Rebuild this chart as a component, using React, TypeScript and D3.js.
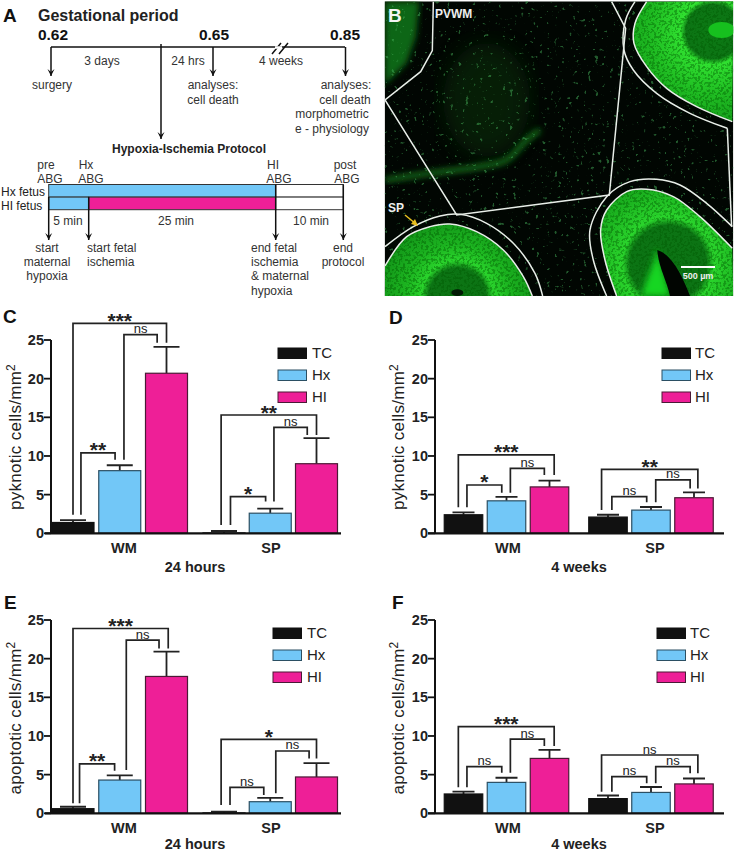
import React, { useEffect, useRef } from 'react';
import * as d3 from 'd3';

// bar chart values
const seriesNames = ['TC', 'Hx', 'HI'];
const groupNames = ['WM', 'SP'];
const yTicks = [0, 5, 10, 15, 20, 25];

// slots 0-2 are WM, 3-5 are SP (TC, Hx, HI in each)
const pyknotic24Mean = [1.4, 8.1, 20.7, 0.05, 2.6, 9.0];
const pyknotic24Top = [1.7, 8.8, 24.1, 0.3, 3.2, 12.3];
const pyknotic4Mean = [2.4, 4.2, 6.0, 2.1, 3.0, 4.6];
const pyknotic4Top = [2.7, 4.7, 6.8, 2.4, 3.4, 5.3];
const apoptotic24Mean = [0.6, 4.3, 17.7, 0.05, 1.5, 4.7];
const apoptotic24Top = [0.85, 4.9, 20.9, 0.2, 2.0, 6.5];
const apoptotic4Mean = [2.5, 4.0, 7.1, 1.9, 2.7, 3.8];
const apoptotic4Top = [2.8, 4.6, 8.2, 2.3, 3.4, 4.5];

// brackets: slot from, slot to, top value, left end value, right end value, label
const pyknotic24Brackets: [number, number, number, number, number, string][] = [
  [0, 2, 27.15, 2.4, 24.65, '***'],
  [0.17, 0.9, 10.4, 2.4, 9.5, '**'],
  [1.09, 1.8, 25.7, 9.5, 24.65, 'ns'],
  [2.95, 5, 15.3, 1.08, 12.7, '**'],
  [3.14, 3.9, 4.74, 1.08, 4.1, '*'],
  [4.08, 4.8, 13.7, 4.1, 12.7, 'ns'],
];
const pyknotic4Brackets: [number, number, number, number, number, string][] = [
  [-0.12, 2.08, 10.13, 3.36, 7.54, '***'],
  [0.08, 0.89, 6.25, 3.36, 5.26, '*'],
  [1.09, 1.88, 8.4, 5.26, 7.54, 'ns'],
  [2.89, 5.09, 8.28, 3.0, 5.8, '**'],
  [3.09, 3.9, 4.74, 3.0, 4.0, 'ns'],
  [4.11, 4.91, 6.9, 4.0, 5.8, 'ns'],
];
const apoptotic24Brackets: [number, number, number, number, number, string][] = [
  [0, 2.03, 23.9, 1.3, 21.3, '***'],
  [0.14, 0.89, 6.4, 1.3, 5.5, '**'],
  [1.14, 1.84, 22.4, 5.6, 21.3, 'ns'],
  [2.95, 5, 9.57, 1.08, 7.1, '*'],
  [3.13, 3.86, 3.36, 1.08, 2.37, 'ns'],
  [4.12, 4.84, 8.06, 2.6, 7.1, 'ns'],
];
const apoptotic4Brackets: [number, number, number, number, number, string][] = [
  [-0.12, 2.08, 11.2, 3.36, 8.7, '***'],
  [0.08, 0.89, 6.03, 3.36, 5.26, 'ns'],
  [1.09, 1.88, 9.6, 5.26, 8.7, 'ns'],
  [2.89, 5.09, 7.54, 2.8, 5.17, 'ns'],
  [3.09, 3.9, 4.74, 2.8, 3.88, 'ns'],
  [4.11, 4.91, 6.03, 3.88, 5.17, 'ns'],
];

// protocol timeline, minutes
const protocolMinutes = [0, 5, 30, 40];
const hxFetusSegments = [[0, 30, 'blue'], [30, 40, 'white']];
const hiFetusSegments = [[0, 5, 'blue'], [5, 30, 'pink'], [30, 40, 'white']];

// tracing outlines of the micrograph, in a 3x crop space
const regionLines = [
  [[160, 5], [157, 152], [122, 215], [15, 300], [230, 645], [688, 585], [737, 85], [695, 5]],
  [[1042, 385], [1055, 680]],
];
const outerLeft = [[15, 740], [100, 680], [180, 648], [240, 643], [320, 670], [400, 730], [465, 820], [488, 888]];
const innerLeft = [[15, 798], [80, 710], [150, 680], [210, 672], [290, 695], [370, 750], [430, 830], [457, 888]];
const outerRight = [[680, 888], [640, 780], [630, 690], [680, 590], [750, 545], [830, 538], [900, 555], [980, 610], [1057, 680]];
const innerRight = [[710, 888], [675, 780], [662, 690], [680, 630], [740, 575], [800, 568], [880, 590], [960, 650], [1057, 745]];
const outerTop = [[765, 5], [737, 60], [732, 150], [760, 210], [830, 280], [930, 340], [1042, 385]];
const innerTop = [[800, 5], [765, 70], [762, 130], [800, 200], [860, 265], [950, 320], [1057, 365]];
const streakLine = [[15, 540], [150, 520], [300, 500], [380, 480], [440, 420], [480, 390]];

const BLUE = '#72c7f7';
const PINK = '#ee1f97';
const INK = '#111';
const FONT = '"Liberation Sans", Arial, sans-serif';

const panels = [
  { letter: 'C', lx: 3, ly: 323, top: 340, axisX: 51, x0: 45, x1: 341, c: [73, 166.5, 224, 316.5], bw: 42, cap: 26,
    mean: pyknotic24Mean, upper: pyknotic24Top, brackets: pyknotic24Brackets, title: 'pyknotic cells/mm', titleX: 21, time: '24 hours',
    wmX: 124, spX: 271, timeX: 195, timeDy: 39, legX: 278, legT: 312 },
  { letter: 'D', lx: 389, ly: 324, top: 340, axisX: 435, x0: 428, x1: 724, c: [463.5, 549.5, 608, 694], bw: 38.5, cap: 22,
    mean: pyknotic4Mean, upper: pyknotic4Top, brackets: pyknotic4Brackets, title: 'pyknotic cells/mm', titleX: 404, time: '4 weeks',
    wmX: 508, spX: 655, timeX: 579, timeDy: 39, legX: 662, legT: 695 },
  { letter: 'E', lx: 4, ly: 609, top: 620, axisX: 51, x0: 45, x1: 341, c: [73, 166.5, 224, 316.5], bw: 42, cap: 26,
    mean: apoptotic24Mean, upper: apoptotic24Top, brackets: apoptotic24Brackets, title: 'apoptotic cells/mm', titleX: 21, time: '24 hours',
    wmX: 124, spX: 271, timeX: 195, timeDy: 36, legX: 273, legT: 307 },
  { letter: 'F', lx: 392, ly: 609, top: 620, axisX: 435, x0: 428, x1: 724, c: [463.5, 549.5, 608, 694], bw: 38.5, cap: 22,
    mean: apoptotic4Mean, upper: apoptotic4Top, brackets: apoptotic4Brackets, title: 'apoptotic cells/mm', titleX: 404, time: '4 weeks',
    wmX: 508, spX: 655, timeX: 579, timeDy: 36, legX: 657, legT: 690 },
];

const fills = [INK, BLUE, PINK];

function drawText(g: any, str: string, x: number, y: number, size: number, opts: any = {}) {
  return g.append('text')
    .attr('x', x).attr('y', y)
    .attr('font-size', size)
    .attr('font-family', FONT)
    .attr('font-weight', opts.bold ? 700 : 400)
    .attr('text-anchor', opts.anchor || 'middle')
    .attr('fill', opts.fill || INK)
    .text(str);
}

function drawBars(svg: any, p: any) {
  const g = svg.append('g');
  const y = d3.scaleLinear().domain([0, 25]).range([p.top + 193.3, p.top]);
  // WM slots, then SP slots, each evenly spaced
  const slot = d3.scaleLinear().domain([0, 2, 3, 5]).range(p.c);
  const slots = d3.range(6);

  drawText(g, p.letter, p.lx, p.ly, 19, { bold: true, anchor: 'start', fill: '#111' });

  // error bars go under the bars
  slots.forEach(i => {
    const cx = slot(i);
    g.append('path')
      .attr('d', `M${cx},${y(p.mean[i])}V${y(p.upper[i])}M${cx - p.cap / 2},${y(p.upper[i])}H${cx + p.cap / 2}`)
      .attr('fill', 'none').attr('stroke', '#222').attr('stroke-width', 1.8);
  });

  g.selectAll('rect.bar').data(slots).join('rect')
    .attr('class', 'bar')
    .attr('x', (i: number) => slot(i) - p.bw / 2)
    .attr('width', p.bw)
    .attr('y', (i: number) => y(p.mean[i]))
    .attr('height', (i: number) => y(0) - y(p.mean[i]))
    .attr('fill', (i: number) => fills[i % 3])
    .attr('stroke', (i: number) => (i % 3 === 1 ? '#2b4f63' : i % 3 === 2 ? '#4a1a35' : INK))
    .attr('stroke-width', 1.2);

  // axes
  g.append('path').attr('d', `M${p.axisX},${y(25)}V${y(0)}`).attr('stroke', '#111').attr('stroke-width', 2);
  g.append('path').attr('d', `M${p.x0},${y(0)}H${p.x1}`).attr('stroke', '#111').attr('stroke-width', 2.2);
  yTicks.forEach(t => {
    g.append('path').attr('d', `M${p.axisX - 7},${y(t)}H${p.axisX}`).attr('stroke', '#111').attr('stroke-width', 1.8);
    drawText(g, String(t), p.axisX - 7, y(t) + 5, 14.5, { bold: true, anchor: 'end', fill: '#222' });
  });

  // y title with the squared unit
  const cy = p.top + (p.title[0] === 'p' ? 97 : 98);
  const title = g.append('text')
    .attr('transform', `translate(${p.titleX},${cy}) rotate(-90)`)
    .attr('text-anchor', 'middle')
    .attr('font-family', FONT).attr('font-size', 17).attr('letter-spacing', 0.3).attr('fill', '#222')
    .text(p.title);
  title.append('tspan').attr('font-size', 12).attr('dy', -6).text('2');

  // brackets
  p.brackets.forEach(([a, b, top, left, right, label]: any) => {
    const xa = slot(a);
    const xb = slot(b);
    g.append('path')
      .attr('d', `M${xa},${y(left)}V${y(top)}H${xb}V${y(right)}`)
      .attr('fill', 'none').attr('stroke', '#222').attr('stroke-width', 1.7);
    if (label === 'ns') drawText(g, 'ns', (xa + xb) / 2, y(top) - 1.5, 13, { fill: '#222' });
    else drawText(g, label, (xa + xb) / 2, y(top) + 4.5, 21, { bold: true, fill: '#222' });
  });

  // legend
  seriesNames.forEach((s, i) => {
    const ly = p.top + 8 + i * 22;
    g.append('rect').attr('x', p.legX).attr('y', ly).attr('width', 28.5).attr('height', 10.5)
      .attr('fill', fills[i]).attr('stroke', i === 1 ? '#2b4f63' : i === 2 ? '#4a1a35' : INK).attr('stroke-width', 1);
    drawText(g, s, p.legT, ly + 10, 15, { anchor: 'start', fill: '#222' });
  });

  drawText(g, groupNames[0], p.wmX, y(0) + 20, 14.5, { bold: true, fill: '#222' });
  drawText(g, groupNames[1], p.spX, y(0) + 20, 14.5, { bold: true, fill: '#222' });
  drawText(g, p.time, p.timeX, y(0) + p.timeDy, 14.5, { bold: true, fill: '#222' });
}

function arrow(g: any, x: number, y1: number, y2: number) {
  g.append('path').attr('d', `M${x},${y1}V${y2}`).attr('stroke', '#111').attr('stroke-width', 1.5);
  g.append('path').attr('d', `M${x - 3.5},${y2 - 7}L${x},${y2}L${x + 3.5},${y2 - 7}L${x},${y2 - 4}Z`).attr('fill', '#111');
}

function drawTimeline(svg: any) {
  const g = svg.append('g');
  const small = 12;
  drawText(g, 'A', 3, 22, 19, { bold: true, anchor: 'start', fill: '#111' });
  drawText(g, 'Gestational period', 38, 21, 16, { bold: true, anchor: 'start', fill: '#222' });
  drawText(g, '0.62', 53, 40, 15.5, { bold: true });
  drawText(g, '0.65', 214, 40, 15.5, { bold: true });
  drawText(g, '0.85', 345, 40, 15.5, { bold: true });

  g.append('path').attr('d', 'M51,47H345').attr('stroke', '#111').attr('stroke-width', 1.5);
  arrow(g, 51, 47, 76);
  arrow(g, 161, 44, 139);
  arrow(g, 213, 47, 76);
  arrow(g, 345.5, 47, 76);
  g.append('path').attr('d', 'M272,54L281,43M279,54L288,43').attr('stroke', '#111').attr('stroke-width', 1.5);
  g.append('path').attr('d', 'M275,47.5H282').attr('stroke', '#fff').attr('stroke-width', 2.5);

  drawText(g, '3 days', 102, 65, small, { fill: '#333' });
  drawText(g, '24 hrs', 188, 65, small, { fill: '#333' });
  drawText(g, '4 weeks', 281, 65, small, { fill: '#333' });
  drawText(g, 'surgery', 52, 89, small, { fill: '#333' });
  drawText(g, 'analyses:', 213, 89, small, { fill: '#333' });
  drawText(g, 'cell death', 213, 104, small, { fill: '#333' });
  drawText(g, 'analyses:', 346, 89, small, { fill: '#333' });
  drawText(g, 'cell death', 345, 104, small, { fill: '#333' });
  drawText(g, 'morphometric', 332, 118, small, { fill: '#333' });
  drawText(g, 'e - physiology', 332, 133, small, { fill: '#333' });
  drawText(g, 'Hypoxia-Ischemia Protocol', 189, 153, 12, { bold: true, fill: '#222' });

  ([['pre', 50, 46], ['Hx', 91, 86], ['HI', 279, 273], ['post', 347, 345]] as [string, number, number][]).forEach(([name, ax, nx]) => {
    drawText(g, name, nx, 169, small, { fill: '#333' });
    drawText(g, 'ABG', ax, 183, small, { fill: '#333' });
  });
  drawText(g, 'Hx fetus', 1, 196, small, { anchor: 'start', fill: '#222' });
  drawText(g, 'HI fetus', 1, 210, small, { anchor: 'start', fill: '#222' });

  const x = d3.scaleLinear().domain(protocolMinutes).range([48.7, 88.7, 275.7, 343.3]);
  const colour: any = { blue: BLUE, pink: PINK, white: '#fff' };
  const row = (segs: any[], y: number) => segs.forEach(([a, b, c]) => {
    g.append('rect').attr('x', x(a)).attr('y', y).attr('width', x(b) - x(a)).attr('height', 12.6)
      .attr('fill', colour[c]).attr('stroke', '#333').attr('stroke-width', 1);
  });
  row(hxFetusSegments, 184.5);
  row(hiFetusSegments, 197.1);

  protocolMinutes.forEach(m => arrow(g, x(m), m === 0 || m === 5 ? 197 : 184.5, 240));

  drawText(g, '5 min', 68, 225, small, { fill: '#333' });
  drawText(g, '25 min', 176, 225, small, { fill: '#333' });
  drawText(g, '10 min', 311, 225, small, { fill: '#333' });
  drawText(g, 'start', 47, 252, small, { fill: '#333' });
  drawText(g, 'maternal', 47, 266, small, { fill: '#333' });
  drawText(g, 'hypoxia', 47, 280, small, { fill: '#333' });
  drawText(g, 'start fetal', 87, 252, small, { anchor: 'start', fill: '#333' });
  drawText(g, 'ischemia', 87, 266, small, { anchor: 'start', fill: '#333' });
  drawText(g, 'end fetal', 251, 252, small, { anchor: 'start', fill: '#333' });
  drawText(g, 'ischemia', 251, 266, small, { anchor: 'start', fill: '#333' });
  drawText(g, '& maternal', 251, 280, small, { anchor: 'start', fill: '#333' });
  drawText(g, 'hypoxia', 251, 295, small, { anchor: 'start', fill: '#333' });
  drawText(g, 'end', 343, 252, small, { fill: '#333' });
  drawText(g, 'protocol', 343, 266, small, { fill: '#333' });
}

function radial(defs: any, id: string, cx: number, cy: number, r: number, stops: [number, string][]) {
  const grad = defs.append('radialGradient').attr('id', id)
    .attr('gradientUnits', 'userSpaceOnUse').attr('cx', cx).attr('cy', cy).attr('r', r);
  stops.forEach(([o, c]) => grad.append('stop').attr('offset', o).attr('stop-color', c));
}

function drawMicrograph(svg: any) {
  const defs = svg.append('defs');
  defs.append('clipPath').attr('id', 'bClip').append('rect')
    .attr('x', 14).attr('y', 4).attr('width', 1046).attr('height', 884);

  // speckle for the fluorescence, comes from noise and not from any values
  const specks = defs.append('filter').attr('id', 'specks').attr('x', 0).attr('y', 0).attr('width', 1).attr('height', 1);
  specks.append('feTurbulence').attr('type', 'fractalNoise').attr('baseFrequency', 0.09).attr('numOctaves', 2).attr('seed', 4);
  specks.append('feColorMatrix').attr('values', '0 0 0 0 0.06  0 0 0 0 0.42  0 0 0 0 0.1  6 6 0 0 -7.4');
  defs.append('filter').attr('id', 'soft').append('feGaussianBlur').attr('stdDeviation', 9);
  defs.append('filter').attr('id', 'wide').append('feGaussianBlur').attr('stdDeviation', 30);
  const grain = defs.append('filter').attr('id', 'grain').attr('x', 0).attr('y', 0).attr('width', 1).attr('height', 1);
  grain.append('feTurbulence').attr('type', 'fractalNoise').attr('baseFrequency', 0.13).attr('numOctaves', 2).attr('seed', 9);
  grain.append('feColorMatrix').attr('values', '0 0 0 0 0  0 0 0 0 0.1  0 0 0 0 0  6 6 0 0 -5.9');

  radial(defs, 'gLeft', 232, 890, 225, [[0, '#0c7414'], [0.38, '#0c7414'], [0.48, '#2ad42c'], [0.7, '#1cb420'], [1, '#149a1a']]);
  radial(defs, 'gTop', 1000, 95, 290, [[0, '#0c7a14'], [0.28, '#0c7414'], [0.34, '#30e030'], [0.65, '#1fbc22'], [1, '#149c1a']]);
  radial(defs, 'gRight', 865, 790, 300, [[0, '#0c7414'], [0.38, '#0c7414'], [0.46, '#2ad42c'], [0.72, '#1cb420'], [1, '#149a1a']]);

  const g = svg.append('g').attr('transform', 'translate(380,0) scale(0.3333)');
  const clip = g.append('g').attr('clip-path', 'url(#bClip)');
  clip.append('rect').attr('x', 14).attr('y', 4).attr('width', 1046).attr('height', 884).attr('fill', '#010602');

  const smooth = d3.line().curve(d3.curveCatmullRom);
  const straight = d3.line();

  // dim tissue in the top left corner
  clip.append('path').attr('d', 'M14,4H118L108,110L80,190L14,255Z').attr('fill', '#0c6614').attr('filter', 'url(#soft)');
  clip.append('ellipse').attr('cx', 320).attr('cy', 300).attr('rx', 130).attr('ry', 170).attr('fill', '#0a3a10').attr('opacity', 0.45).attr('filter', 'url(#wide)');
  clip.append('path').attr('d', smooth(streakLine as any)).attr('fill', 'none').attr('stroke', '#157a1e')
    .attr('stroke-width', 14).attr('filter', 'url(#soft)');
  clip.append('rect').attr('x', 14).attr('y', 4).attr('width', 1046).attr('height', 884).attr('filter', 'url(#specks)').attr('opacity', 0.5);

  // cortex lobes
  clip.append('path').attr('d', smooth(innerLeft as any) + 'L14,888Z').attr('fill', 'url(#gLeft)');
  clip.append('path').attr('d', smooth(innerRight as any) + 'L1060,888Z').attr('fill', 'url(#gRight)');
  clip.append('path').attr('d', smooth(innerTop as any) + 'L1060,4Z').attr('fill', 'url(#gTop)');

  // grain over the tissue
  const grainClip = defs.append('clipPath').attr('id', 'lobes');
  grainClip.append('path').attr('d', smooth(innerLeft as any) + 'L14,888Z');
  grainClip.append('path').attr('d', smooth(innerRight as any) + 'L1060,888Z');
  grainClip.append('path').attr('d', smooth(innerTop as any) + 'L1060,4Z');
  clip.append('g').attr('clip-path', 'url(#lobes)')
    .append('rect').attr('x', 14).attr('y', 4).attr('width', 1046).attr('height', 884).attr('filter', 'url(#grain)').attr('opacity', 0.4);

  // ventricle details
  clip.append('ellipse').attr('cx', 1025).attr('cy', 90).attr('rx', 40).attr('ry', 24).attr('fill', '#16c01e');
  clip.append('path').attr('d', 'M825,745C835,770 800,830 785,888H870L835,760Z').attr('fill', '#18d620').attr('filter', 'url(#soft)');
  clip.append('path').attr('d', 'M832,750C870,760 905,820 930,888H870C860,840 835,800 832,750Z').attr('fill', '#010501');
  clip.append('ellipse').attr('cx', 232).attr('cy', 878).attr('rx', 18).attr('ry', 10).attr('fill', '#021a05');

  // tracing lines
  const white = { stroke: '#e8eee8', width: 4.5 };
  regionLines.forEach(l => clip.append('path').attr('d', straight(l as any)).attr('fill', 'none').attr('stroke', white.stroke).attr('stroke-width', white.width));
  [outerLeft, innerLeft, outerRight, innerRight, outerTop, innerTop].forEach(l =>
    clip.append('path').attr('d', smooth(l as any)).attr('fill', 'none').attr('stroke', white.stroke).attr('stroke-width', white.width));

  // labels, back in page pixels
  const top = svg.append('g');
  drawText(top, 'B', 388, 22, 19, { bold: true, anchor: 'start', fill: '#f4f4f4' });
  drawText(top, 'PVWM', 435, 18, 12, { bold: true, anchor: 'start', fill: '#eee' });
  drawText(top, 'SP', 388, 212, 12, { bold: true, anchor: 'start', fill: '#eee' });
  top.append('path').attr('d', 'M405,215L416,224').attr('stroke', '#e8c020').attr('stroke-width', 1.5);
  top.append('path').attr('d', 'M418,226L411,224L415,219Z').attr('fill', '#e8c020');
  top.append('path').attr('d', 'M681,267H715').attr('stroke', '#fff').attr('stroke-width', 2);
  drawText(top, '500 µm', 698, 279, 9, { bold: true, fill: '#eee' });
}

export default function App() {
  const svgRef = useRef<SVGSVGElement>(null);

  useEffect(() => {
    const svg = d3.select(svgRef.current);
    svg.selectAll('*').remove();
    drawTimeline(svg);
    drawMicrograph(svg);
    panels.forEach(p => drawBars(svg, p));
  }, []);

  return (
    <svg
      ref={svgRef}
      width={735}
      height={853}
      viewBox="0 0 735 853"
      style={{ position: 'absolute', left: 0, top: 0, background: '#fff' }}
    />
  );
}
